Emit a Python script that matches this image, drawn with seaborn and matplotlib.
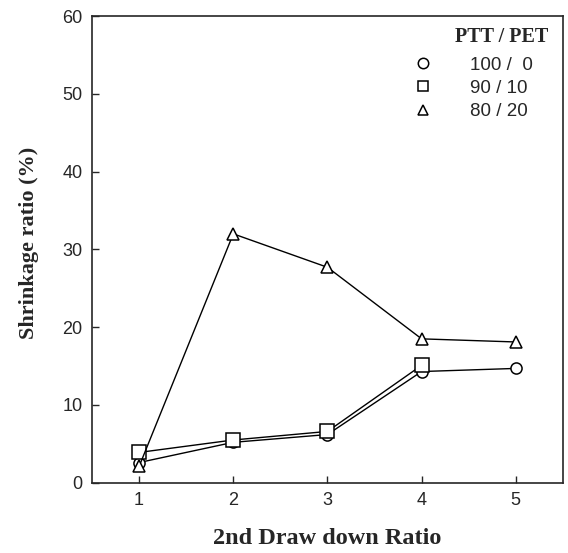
import matplotlib
matplotlib.use('Agg')
import matplotlib.pyplot as plt
import seaborn as sns
import pandas as pd
import numpy as np

draw_ratio = [1, 2, 3, 4, 5]
ptt100 = [2.6, 5.2, 6.2, 14.3, 14.7]
ptt90 = [3.9, 5.5, 6.6, 15.1, np.nan]
ptt80 = [2.1, 32.0, 27.7, 18.5, 18.1]
series_labels = ['100 /  0', '90 / 10', '80 / 20']

df = pd.concat([
    pd.DataFrame({'ratio': draw_ratio, 'shrink': vals, 'blend': lab})
    for vals, lab in zip([ptt100, ptt90, ptt80], series_labels)
], ignore_index=True)

sns.set_style('ticks')
plt.rcParams['font.family'] = ['Liberation Sans', 'DejaVu Sans']

fig = plt.figure(figsize=(5.68, 5.53), dpi=100)
ax = fig.add_axes([0.162, 0.127, 0.829, 0.844])

sns.lineplot(
    data=df, x='ratio', y='shrink', hue='blend', style='blend',
    palette=['black'] * 3, markers=['o', 's', '^'], dashes=False,
    markersize=9, markerfacecolor='white', markeredgecolor='black',
    markeredgewidth=1.1, linewidth=1.0, ax=ax, legend=False,
)
# tune each marker size
sizes = {'o': 8, 's': 10, '^': 9}
for line, m in zip(ax.lines, ['o', 's', '^']):
    line.set_markersize(sizes[m])
    line.set_markerfacecolor('white')

ax.set_xlim(0.5, 5.5)
ax.set_ylim(0, 60)
ax.set_xticks(draw_ratio)
ax.set_yticks(range(0, 61, 10))
ax.tick_params(direction='in', length=5, width=1, labelsize=13, pad=7)
for s in ax.spines.values():
    s.set_linewidth(1.2)

ax.set_xlabel('2nd Draw down Ratio', family='Liberation Serif',
              fontweight='bold', fontsize=17.5, labelpad=13)
ax.set_ylabel('Shrinkage ratio (%)', family='Liberation Serif',
              fontweight='bold', fontsize=16)
ax.yaxis.set_label_coords(-0.112, 0.514)

leg = ax.legend(ax.lines, series_labels, frameon=False,
                loc='upper right', bbox_to_anchor=(0.96, 0.937),
                fontsize=13.5, handlelength=1.2, handletextpad=1.9,
                labelspacing=0.32, borderaxespad=0.2)
for h in leg.legend_handles:
    h.set_linestyle('none')
    h.set_markersize(7.5)
ax.text(0.968, 0.955, 'PTT / PET', transform=ax.transAxes, ha='right',
        va='center', family='Liberation Serif', fontweight='bold',
        fontsize=14.5)

fig.savefig('out.png', dpi=100)
